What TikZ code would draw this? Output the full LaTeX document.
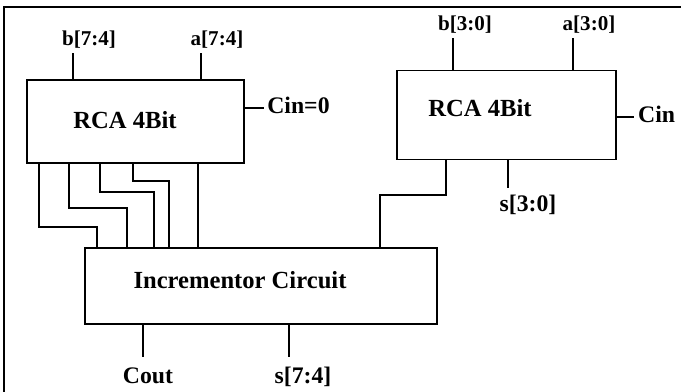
\documentclass[tikz,border=0pt]{standalone}
\usepackage{fontspec}
\setmainfont{Liberation Serif}

\begin{document}
\begin{tikzpicture}[
  x=0.02cm, y=-0.02cm,
  line width=0.8pt,
  block/.style={draw, inner sep=0pt},
  title/.style={font=\fontsize{14}{16}\selectfont\bfseries},
  inlbl/.style={font=\fontsize{12}{14}\selectfont\bfseries,
    text height=9pt, text depth=3pt, inner sep=1.2pt},
  outlbl/.style={font=\fontsize{13.5}{15}\selectfont\bfseries,
    text height=10.1pt, text depth=3.4pt, inner sep=5pt}
]
\useasboundingbox (0,0) rectangle (681,392);
\draw[line width=1.3pt] (4,392) -- (4,7) -- (681,7);

% adders and incrementor
\node[block, minimum width=4.34cm, minimum height=1.66cm] (rcaL) at (135.5,121.5) {};
\node[title] (rcaLtxt) at (125,120) {RCA 4Bit};
\node[block, minimum width=4.38cm, minimum height=1.77cm] (rcaR) at (506.5,115) {};
\node[title] (rcaRtxt) at (480,108) {RCA 4Bit};
\node[block, minimum width=7.04cm, minimum height=1.52cm] (inc) at (261,286) {};
\node[title] (inctxt) at (240,280) {Incrementor Circuit};

% signal names
\node[inlbl] (bHi) at (89,40) {b[7:4]};
\node[inlbl] (aHi) at (217,40) {a[7:4]};
\node[inlbl] (bLo) at (465,25) {b[3:0]};
\node[inlbl] (aLo) at (589,25) {a[3:0]};
\node[outlbl, anchor=west, inner sep=1.5pt] (cinL) at (264,108) {Cin=0};
\node[outlbl, anchor=west, inner sep=2pt] (cinR) at (634,117) {Cin};
\node[outlbl] (cout) at (148,378) {Cout};
\node[outlbl] (sHi) at (303,378) {s[7:4]};
\node[outlbl, inner sep=3pt] (sLo) at (528,206) {s[3:0]};

\draw (rcaL.north -| 73,0) -- (bHi.south -| 73,0);
\draw (rcaL.north -| 201,0) -- (aHi.south -| 201,0);
\draw (rcaR.north -| 453,0) -- (bLo.south -| 453,0);
\draw (rcaR.north -| 573,0) -- (aLo.south -| 573,0);
\draw (rcaL.east |- cinL.west) -- (cinL.west);
\draw (rcaR.east |- cinR.west) -- (cinR.west);

% upper sum bits into the incrementor
\draw (rcaL.south -| 39,0) |- (97,227) -- (inc.north -| 97,0);
\draw (rcaL.south -| 69,0) |- (127,208) -- (inc.north -| 127,0);
\draw (rcaL.south -| 100,0) |- (154,192) -- (inc.north -| 154,0);
\draw (rcaL.south -| 133,0) |- (169,181) -- (inc.north -| 169,0);
\draw (rcaL.south -| 198,0) -- (inc.north -| 198,0);
\draw (rcaR.south -| 446,0) |- (380,195) -- (inc.north -| 380,0);

\draw (rcaR.south -| 508,0) -- (sLo.north -| 508,0);
\draw (inc.south -| 143,0) -- (cout.north -| 143,0);
\draw (inc.south -| 289,0) -- (sHi.north -| 289,0);
\end{tikzpicture}
\end{document}
